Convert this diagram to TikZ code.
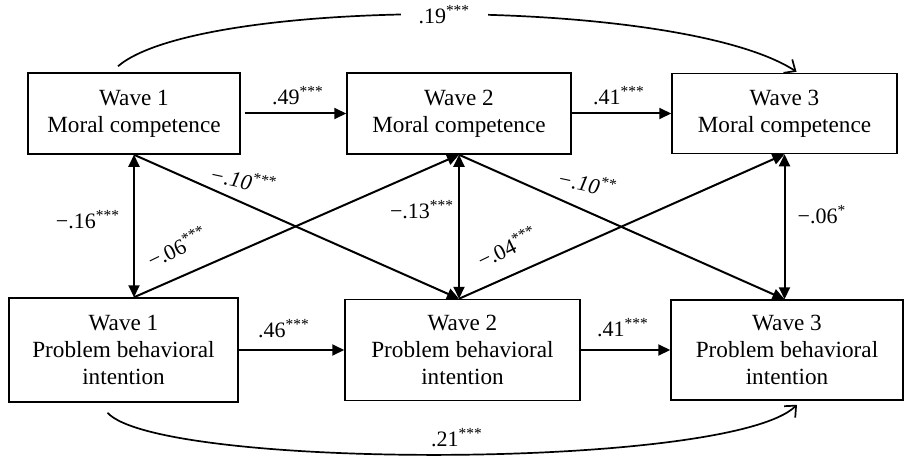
\documentclass[tikz,border=0pt]{standalone}
\usepackage{fontspec}
\setmainfont{Liberation Serif}
\usetikzlibrary{arrows.meta, calc}

\begin{document}
\begin{tikzpicture}[
    x=0.5pt, y=-0.5pt,
    font=\fontsize{11.6}{13.4}\selectfont,
    box/.style={draw, line width=0.75pt, align=center, inner sep=0pt},
    arr/.style={-{Triangle[length=6pt,width=5.5pt]}, line width=1pt},
    darr/.style={{Triangle[length=6pt,width=5.5pt]}-{Triangle[length=6pt,width=5.5pt]}, line width=1pt},
    carr/.style={-{Straight Barb[length=4.5pt,width=8pt]}, line width=0.85pt},
    lbl/.style={font=\fontsize{11}{13}\selectfont, inner sep=1pt},
    slbl/.style={lbl, font=\fontsize{11}{13}\selectfont\itshape}
  ]
\useasboundingbox (0,0) rectangle (904,460);

% =================== moral competence (top row) ===================
\node[box, minimum width=106pt, minimum height=40.5pt] (mc1) at (134,113.5) {Wave 1\\Moral competence};
\node[box, minimum width=112pt, minimum height=40.5pt] (mc2) at (459,113.5) {Wave 2\\Moral competence};
\node[box, minimum width=112.5pt, minimum height=40pt] (mc3) at (784.5,113.5) {Wave 3\\Moral competence};

% =================== problem behavioral intention (bottom row) ===================
\node[box, minimum width=114.5pt, minimum height=52pt] (pb1) at (123.5,350) {Wave 1\\Problem behavioral\\intention};
\node[box, minimum width=117.5pt, minimum height=50.5pt] (pb2) at (462.5,350) {Wave 2\\Problem behavioral\\intention};
\node[box, minimum width=116pt, minimum height=50pt] (pb3) at (787,350) {Wave 3\\Problem behavioral\\intention};

% foot points of the vertical links on the bottom row
\coordinate (c1) at (mc1.south |- pb1.north);
\coordinate (c2) at (mc2.south |- pb2.north);
\coordinate (c3) at (mc3.south |- pb3.north);

% autoregressive paths
\draw[arr, shorten <=2pt] (mc1.east) -- (mc2.west);
\draw[arr] (mc2.east) -- (mc3.west);
\draw[arr] (pb1.east) -- (pb2.west);
\draw[arr] (pb2.east) -- (pb3.west);
\node[lbl] (k49) at (298,96) {.49\textsuperscript{***}};
\node[lbl] (k41a) at (619,96) {.41\textsuperscript{***}};
\node[lbl] (k46) at (284,329) {.46\textsuperscript{***}};
\node[lbl] (k41b) at (623,328) {.41\textsuperscript{***}};

% within-wave correlations
\draw[darr] (mc1.south) -- (c1);
\draw[darr] (mc2.south) -- (c2);
\draw[darr] (mc3.south) -- (c3);
\node[lbl] (k16) at (88,220) {−.16\textsuperscript{***}};
\node[lbl] (k13) at (422,210) {−.13\textsuperscript{***}};
\node[lbl] (k06b) at (822,215) {−.06\textsuperscript{*}};

% cross-lagged paths
\draw[arr] (mc1.south) -- (c2);
\draw[arr] (c1) -- (mc2.south);
\draw[arr] (mc2.south) -- (c3);
\draw[arr] (c2) -- (mc3.south);
\node[slbl, rotate=-12] (k10a) at (243,180) {−.10\textsuperscript{***}};
\node[slbl, rotate=-12] (k10b) at (587,183) {−.10\textsuperscript{**}};
\node[lbl, rotate=26] (k06a) at (177,247) {−.06\textsuperscript{***}};
\node[lbl, rotate=26] (k04) at (507,247) {−.04\textsuperscript{***}};

% =================== wave 1 -> wave 3 (curved) ===================
\draw[carr] ($(mc1.north)+(-16,-6)$) .. controls (200,-4) and (680,-4) .. ($(mc3.north)+(12,-1)$)
  node[lbl, pos=0.5, fill=white, inner xsep=9pt] (k19) {.19\textsuperscript{***}};
\draw[carr] ($(pb1.south)+(-16,10)$) .. controls (160,470) and (730,470) .. ($(pb3.south)+(10,4)$);
\node[lbl] (k21) at (457,438) {.21\textsuperscript{***}};

\end{tikzpicture}
\end{document}
